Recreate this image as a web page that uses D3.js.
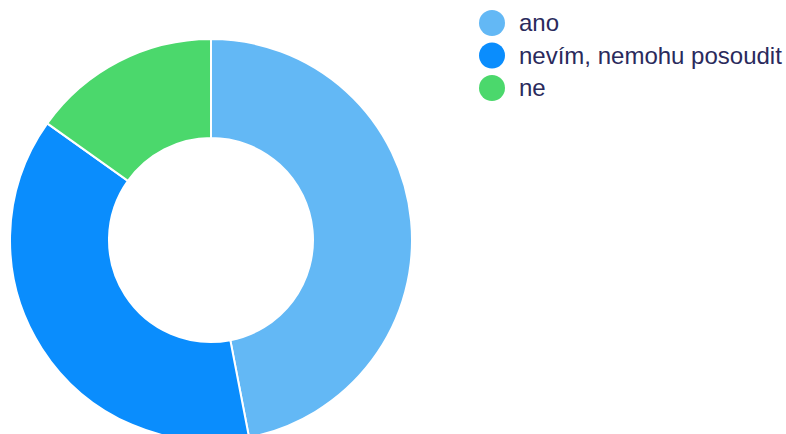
<!DOCTYPE html>
<html>
<head>
<meta charset="utf-8">
<script src="https://cdn.jsdelivr.net/npm/d3@7"></script>
<style>
  body { margin: 0; background: #fff; }
  svg { display: block; }
</style>
</head>
<body>
<div class="chart"></div>
<script>
const labels = ['ano', 'nevím, nemohu posoudit', 'ne'];
const values = [31, 25, 10];
const colors = ['#63b8f5', '#0a8dfd', '#4bd86c'];

const outerWidth = 786;
const outerHeight = 434;

const center = {x: 211, y: 240};
const outerR = 201;
const innerR = 102;

const svg = d3.select('.chart').append('svg')
    .attr('width', outerWidth)
    .attr('height', outerHeight);

const pie = d3.pie().sort(null).value(d => d);
const arc = d3.arc().innerRadius(innerR).outerRadius(outerR);

// Donut slices
svg.append('g')
    .attr('transform', `translate(${center.x}, ${center.y})`)
    .selectAll('path')
    .data(pie(values))
    .join('path')
    .attr('d', arc)
    .attr('fill', (d, i) => colors[i])
    .attr('stroke', '#fff')
    .attr('stroke-width', 2);

// Legend
const legend = svg.append('g')
    .attr('transform', 'translate(492, 23)');

const rowH = 32.5;

const items = legend.selectAll('g')
    .data(labels)
    .join('g')
    .attr('transform', (d, i) => `translate(0, ${i * rowH})`);

items.append('circle')
    .attr('r', 13)
    .attr('fill', (d, i) => colors[i]);

items.append('text')
    .attr('x', 27)
    .attr('dy', '0.35em')
    .attr('fill', '#2a2a5c')
    .style('font-family', '"Liberation Sans", Arial, sans-serif')
    .style('font-size', '24px')
    .text(d => d);
</script>
</body>
</html>
